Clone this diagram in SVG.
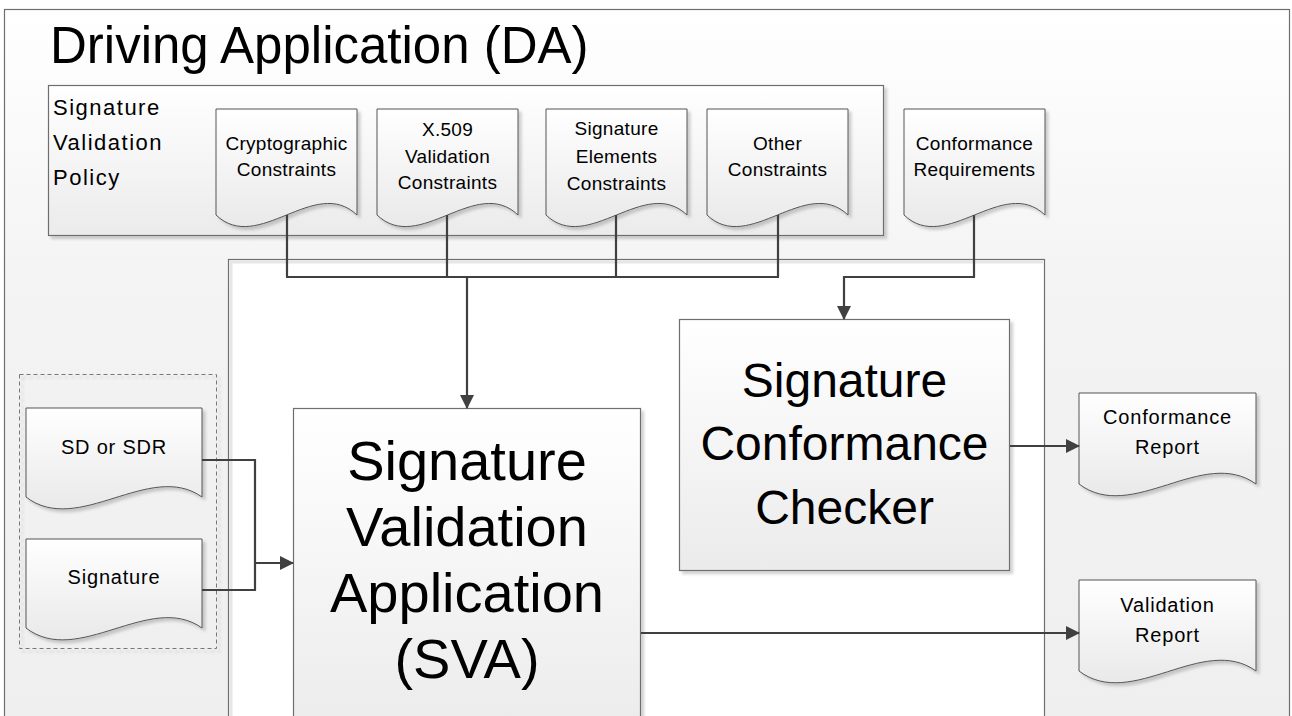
<svg xmlns="http://www.w3.org/2000/svg" width="1292" height="716" viewBox="0 0 1292 716">
<style>
text{font-family:"Liberation Sans",Arial,sans-serif;fill:#000}
.box{stroke:#6e6e6e;stroke-width:1.2}
.doc{fill:url(#docg);stroke:#555;stroke-width:1}
.conn{fill:none;stroke:#404040;stroke-width:2.2}
.sm{font-size:19px;letter-spacing:0.3px;text-anchor:middle}
.md{font-size:20px;letter-spacing:0.8px;text-anchor:middle}
</style>
<defs>
<linearGradient id="outerg" x1="0" y1="0" x2="0" y2="1"><stop offset="0" stop-color="#ffffff"/><stop offset="0.4" stop-color="#f3f3f3"/><stop offset="1" stop-color="#efefef"/></linearGradient>
<linearGradient id="docg" x1="0" y1="0" x2="0" y2="1"><stop offset="0" stop-color="#ffffff"/><stop offset="1" stop-color="#e9e9e9"/></linearGradient>
<linearGradient id="boxg" x1="0" y1="0" x2="0" y2="1"><stop offset="0" stop-color="#ffffff"/><stop offset="1" stop-color="#ebebeb"/></linearGradient>
<filter id="sh" x="-10%" y="-10%" width="130%" height="130%"><feDropShadow dx="3" dy="3" stdDeviation="1.5" flood-color="#000" flood-opacity="0.18"/></filter>
<marker id="arr" markerUnits="userSpaceOnUse" markerWidth="14" markerHeight="14" viewBox="0 0 14 14" refX="13" refY="7" orient="auto"><path d="M0,0 L14,7 L0,14 Z" fill="#404040"/></marker>
</defs>

<g id="da">
<rect x="4.5" y="9.5" width="1285" height="720" fill="url(#outerg)" class="box"/>
<text x="50" y="63" font-size="51">Driving Application (DA)</text>
</g>

<g id="policy">
<rect x="48.5" y="85.5" width="835" height="150" fill="url(#boxg)" class="box" filter="url(#sh)"/>
<text x="53" font-size="22" letter-spacing="1.5"><tspan x="53" y="115">Signature</tspan><tspan x="53" y="150">Validation</tspan><tspan x="53" y="185">Policy</tspan></text>
</g>

<g id="crypto">
<path class="doc" filter="url(#sh)" d="M216,109 H357 V215 C315,175 258,255 216,215 Z"/>
<text class="sm"><tspan x="286.5" y="150">Cryptographic</tspan><tspan x="286.5" y="176">Constraints</tspan></text>
</g>
<g id="x509">
<path class="doc" filter="url(#sh)" d="M377,109 H518 V215 C476,175 419,255 377,215 Z"/>
<text class="sm"><tspan x="447.5" y="136">X.509</tspan><tspan x="447.5" y="163">Validation</tspan><tspan x="447.5" y="189">Constraints</tspan></text>
</g>
<g id="sigelem">
<path class="doc" filter="url(#sh)" d="M546,109 H687 V215 C645,175 588,255 546,215 Z"/>
<text class="sm"><tspan x="616.5" y="135">Signature</tspan><tspan x="616.5" y="163">Elements</tspan><tspan x="616.5" y="190">Constraints</tspan></text>
</g>
<g id="other">
<path class="doc" filter="url(#sh)" d="M707,109 H848 V215 C806,175 749,255 707,215 Z"/>
<text class="sm"><tspan x="777.5" y="150">Other</tspan><tspan x="777.5" y="176">Constraints</tspan></text>
</g>
<g id="confreq">
<path class="doc" filter="url(#sh)" d="M904,109 H1045 V215 C1003,175 946,255 904,215 Z"/>
<text class="sm"><tspan x="974.5" y="150">Conformance</tspan><tspan x="974.5" y="176">Requirements</tspan></text>
</g>

<g id="container">
<rect x="228.5" y="259.5" width="816" height="480" fill="#ffffff" class="box"/>
<path d="M231,740 V262 H1043" fill="none" stroke="#e6e6e6" stroke-width="3"/>
</g>

<g id="inputs">
<rect x="19.5" y="374.5" width="197" height="274" fill="none" stroke="#777" stroke-width="1" stroke-dasharray="4,3" filter="url(#sh)"/>
</g>
<g id="sdsdr">
<path class="doc" filter="url(#sh)" d="M26,408 H202 V497 C150,460 78,537 26,497 Z"/>
<text class="md" x="114" y="454">SD or SDR</text>
</g>
<g id="signature">
<path class="doc" filter="url(#sh)" d="M26,539 H202 V628 C150,591 78,668 26,628 Z"/>
<text class="md" x="114" y="584">Signature</text>
</g>

<g id="sva">
<rect x="293.5" y="408.5" width="347" height="330" fill="url(#boxg)" class="box" filter="url(#sh)"/>
<text font-size="56" text-anchor="middle"><tspan x="467" y="480">Signature</tspan><tspan x="467" y="546">Validation</tspan><tspan x="467" y="612">Application</tspan><tspan x="467" y="678">(SVA)</tspan></text>
</g>

<g id="scc">
<rect x="679.5" y="319.5" width="330" height="251" fill="url(#boxg)" class="box" filter="url(#sh)"/>
<text font-size="48" text-anchor="middle"><tspan x="844.5" y="397">Signature</tspan><tspan x="844.5" y="460">Conformance</tspan><tspan x="844.5" y="524">Checker</tspan></text>
</g>

<g id="confreport">
<path class="doc" filter="url(#sh)" d="M1079,393 H1256 V484 C1203,446 1132,524 1079,484 Z"/>
<text class="md"><tspan x="1167.5" y="424">Conformance</tspan><tspan x="1167.5" y="454">Report</tspan></text>
</g>
<g id="valreport">
<path class="doc" filter="url(#sh)" d="M1079,580 H1256 V671 C1203,633 1132,711 1079,671 Z"/>
<text class="md"><tspan x="1167.5" y="612">Validation</tspan><tspan x="1167.5" y="642">Report</tspan></text>
</g>

<g id="connectors">
<path class="conn" d="M287,215 V277 M447,215 V277 M616,215 V277 M778,215 V277 M286,277 H779"/>
<path class="conn" d="M467,277 V408" marker-end="url(#arr)"/>
<path class="conn" d="M974,215 V277 H844 V319" marker-end="url(#arr)"/>
<path class="conn" d="M202,460 H255 V590 H202"/>
<path class="conn" d="M255,563 H293" marker-end="url(#arr)"/>
<path class="conn" d="M1010,446 H1079" marker-end="url(#arr)"/>
<path class="conn" d="M641,633 H1079" marker-end="url(#arr)"/>
</g>
</svg>
